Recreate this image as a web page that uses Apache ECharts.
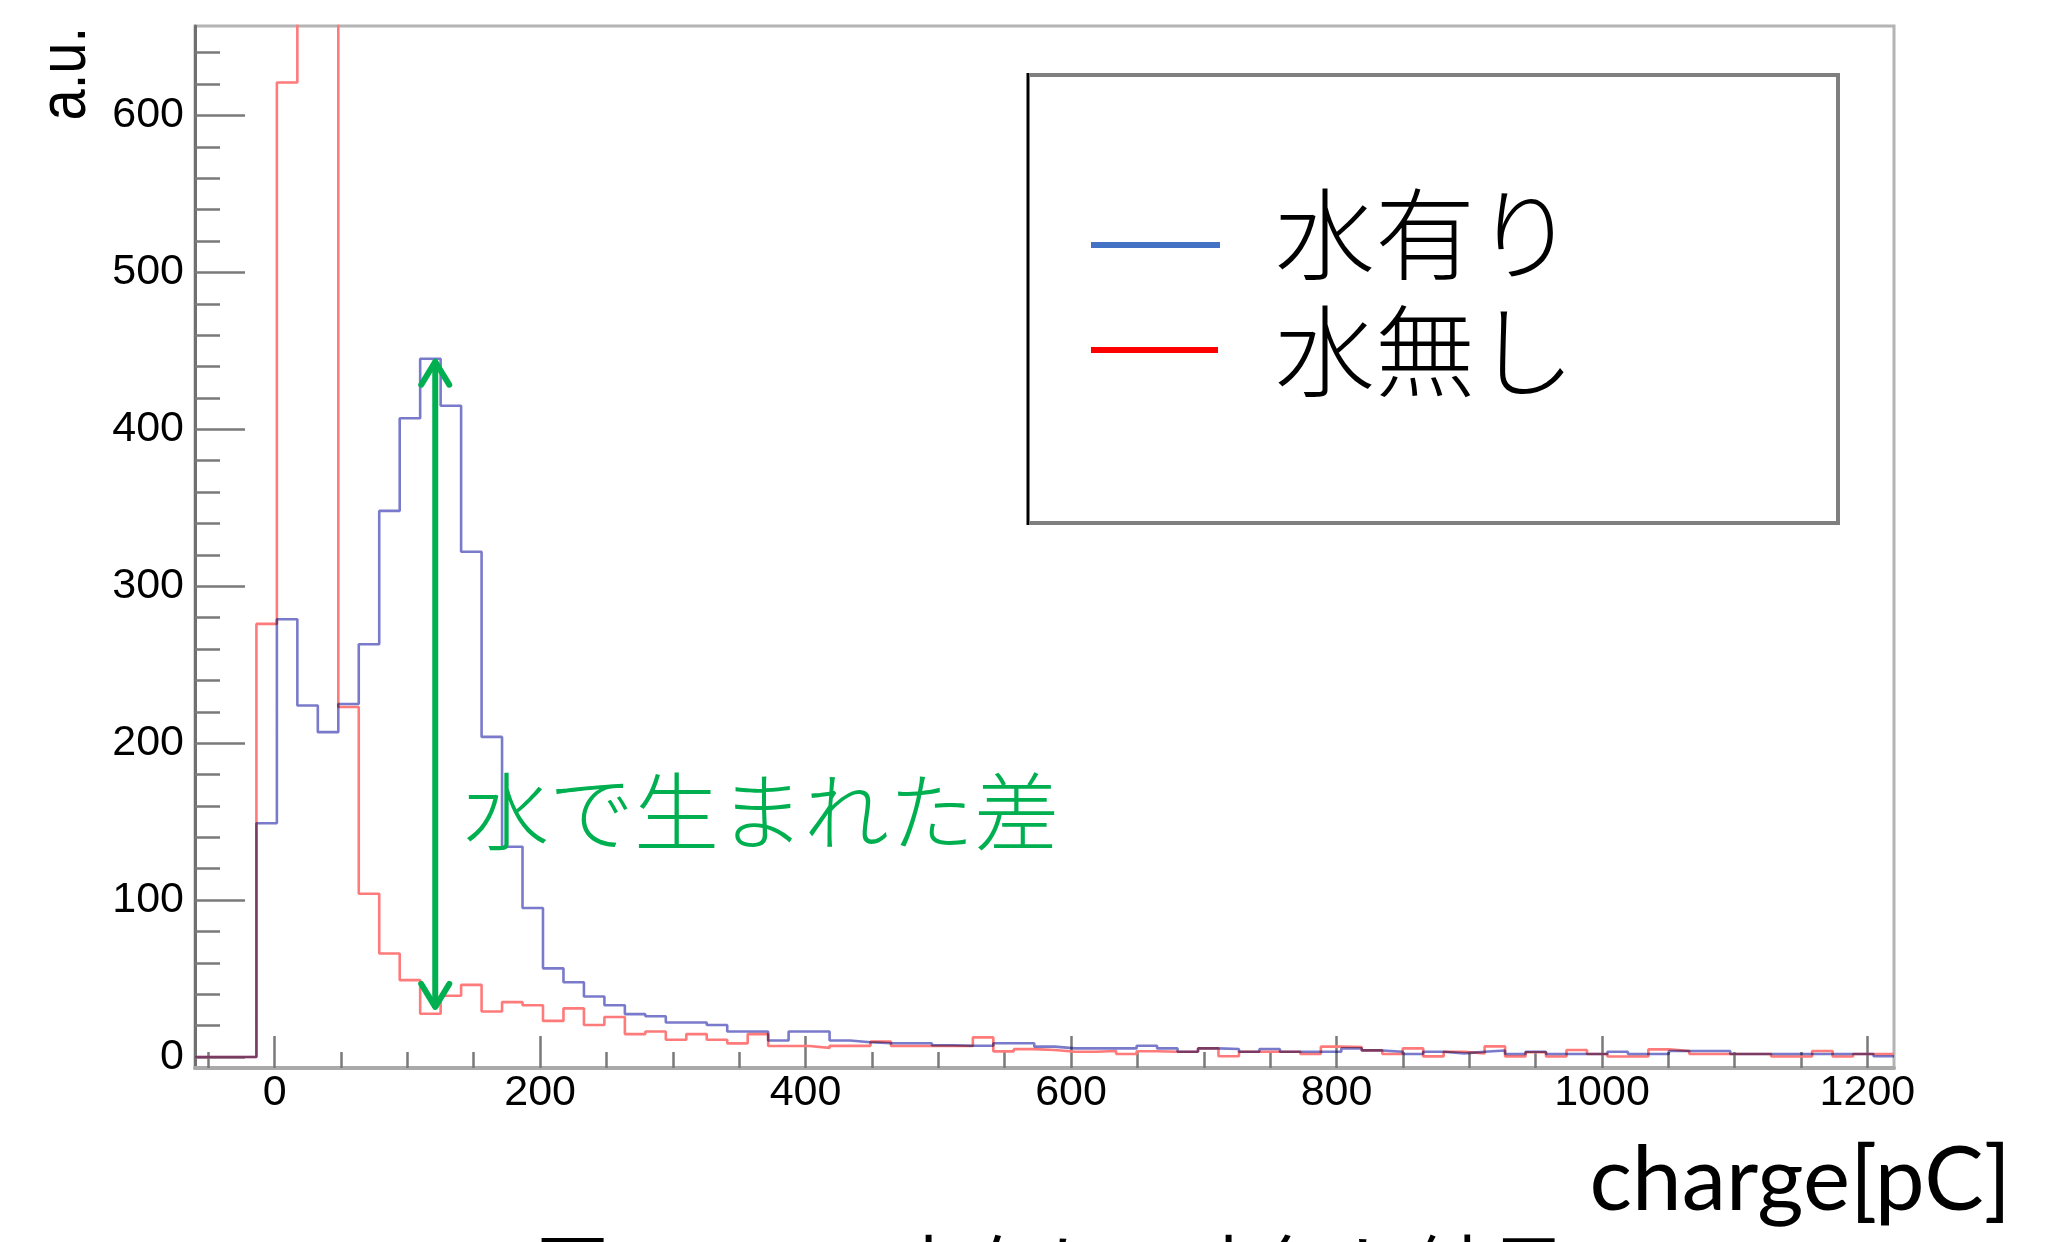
<!DOCTYPE html>
<html>
<head>
<meta charset="utf-8">
<script src="https://cdn.jsdelivr.net/npm/echarts@6/dist/echarts.min.js"></script>
<style>
html,body{margin:0;padding:0;background:#ffffff;}
#c{width:2062px;height:1242px;}
</style>
</head>
<body>
<div id="c"></div>
<script>
// ---------- data ----------
const X_MIN = -60, X_MAX = 1220, N_BINS = 83;   // histogram range / binning
const Y_MIN = -7, Y_MAX = 657;

const seriesNames = ['水有り', '水無し'];

// bin contents, bin k spans [X_MIN + k*w, X_MIN + (k+1)*w]
const withWater = [
  0, 0, 0, 149, 279, 224, 207, 225, 263, 348,
  407, 445, 415, 322, 204, 134, 95, 56.5, 47.6, 38.6,
  33, 27.3, 26, 22, 22, 20.4, 16.3, 16.3, 10.5, 16.3,
  16.3, 10.5, 9.4, 8.8, 8.8, 8.8, 7.5, 7.2, 7.2, 8.8,
  8.8, 6.6, 5.5, 5.5, 5.5, 5.5, 7.2, 5.5, 3.4, 5.5,
  5.1, 3.4, 5.1, 3.4, 3.4, 3.4, 5.5, 4.2, 3.4, 1.9,
  3.4, 2.3, 3.4, 4.2, 1.9, 3.4, 1.9, 1.9, 1.9, 3.4,
  1.9, 1.9, 3.8, 3.8, 3.8, 1.9, 1.9, 1.9, 1.9, 1.9,
  1.9, 1.9, 0.5
];
const withoutWater = [
  0, 0, 0, 276, 621, 720, 705, 223, 104, 66,
  49, 27.6, 39, 46, 29, 35, 33, 23, 31, 20.4,
  25.5, 14.6, 16.3, 11, 14.6, 11, 8.7, 14.6, 7, 7,
  5.8, 7.1, 7.1, 9.8, 7, 7, 7, 7, 12.5, 3.6,
  5, 4.5, 3.4, 3.4, 3.8, 1.9, 3.7, 3.4, 3.4, 5.5,
  0.5, 3.4, 3.4, 3.4, 1.9, 6.6, 6.4, 4.2, 1.9, 5.5,
  0.4, 3.4, 2.3, 6.8, 0.4, 3, 0.3, 4.5, 1.9, 0.3,
  0.3, 4.9, 3.8, 1.9, 1.9, 1.9, 1.9, 0.3, 0.3, 3.8,
  0.3, 1.9, 1.9
];

const xMajorTicks = [0, 200, 400, 600, 800, 1000, 1200];
const xMinorTicks = [-50, 50, 100, 150, 250, 300, 350, 450, 500, 550, 650, 700, 750,
                     850, 900, 950, 1050, 1100, 1150];
const yMajorTicks = [0, 100, 200, 300, 400, 500, 600];
const yMinorTicks = [20, 40, 60, 80, 120, 140, 160, 180, 220, 240, 260, 280, 320, 340, 360, 380,
                     420, 440, 460, 480, 520, 540, 560, 580, 620, 640];

const xTitle = 'charge[pC]';
const yTitle = 'a.u.';
const annotationText = '水で生まれた差';
const arrowMark = { x: 121, top: 445, bottom: 30 };
const captionHead = '図';
const captionBody = '水有り・水無し結果';

// ---------- chart ----------
const chart = echarts.init(document.getElementById('c'), null, { renderer: 'canvas', width: 2062, height: 1242 });
const binW = (X_MAX - X_MIN) / N_BINS;
function histPoints(vals) {
  const pts = [];
  for (let k = 0; k < vals.length; k++) pts.push([X_MIN + k * binW, vals[k]]);
  pts.push([X_MIN + vals.length * binW, vals[vals.length - 1]]);
  return pts;
}

const tickStyle = { color: '#7a7a7a', width: 2.5 };
const labelFont = { fontSize: 43, fontFamily: '"Liberation Sans", Arial, sans-serif', color: '#000000' };
const plainNum = function (v) { return String(Math.round(v)); };

chart.setOption({
  animation: false,
  backgroundColor: '#ffffff',
  grid: {
    left: 195, top: 26, width: 1699, height: 1042,
    show: true, borderColor: '#b4b4b4', borderWidth: 3, backgroundColor: 'transparent',
    containLabel: false, outerBoundsMode: 'none'
  },
  xAxis: [
    {
      type: 'value', min: X_MIN, max: X_MAX, position: 'bottom',
      axisLine: { show: true, onZero: false, lineStyle: { color: '#aaaaaa', width: 4 } },
      axisTick: { show: true, inside: true, length: 32, customValues: xMajorTicks, lineStyle: tickStyle },
      axisLabel: Object.assign({ show: true, customValues: xMajorTicks, margin: 4, formatter: plainNum }, labelFont),
      splitLine: { show: false }
    },
    {
      type: 'value', min: X_MIN, max: X_MAX, position: 'bottom', offset: 0,
      axisLine: { show: false, onZero: false },
      axisTick: { show: true, inside: true, length: 16, customValues: xMinorTicks, lineStyle: tickStyle },
      axisLabel: { show: false },
      splitLine: { show: false }
    }
  ],
  yAxis: [
    {
      type: 'value', min: Y_MIN, max: Y_MAX, position: 'left',
      axisLine: { show: true, onZero: false, lineStyle: { color: '#707070', width: 3 } },
      axisTick: { show: true, inside: true, length: 50, customValues: yMajorTicks, lineStyle: tickStyle },
      axisLabel: Object.assign({ show: true, customValues: yMajorTicks, margin: 11, formatter: plainNum }, labelFont),
      splitLine: { show: false }
    },
    {
      type: 'value', min: Y_MIN, max: Y_MAX, position: 'left', offset: 0,
      axisLine: { show: false, onZero: false },
      axisTick: { show: true, inside: true, length: 25, customValues: yMinorTicks, lineStyle: tickStyle },
      axisLabel: { show: false },
      splitLine: { show: false }
    }
  ],
  series: [
    {
      name: seriesNames[1], type: 'line', step: 'end', xAxisIndex: 0, yAxisIndex: 0,
      data: histPoints(withoutWater), showSymbol: false, symbol: 'none', clip: true,
      lineStyle: { color: '#ff7a7a', width: 2.6 }, z: 3
    },
    {
      name: seriesNames[0], type: 'line', step: 'end', xAxisIndex: 0, yAxisIndex: 0,
      data: histPoints(withWater), showSymbol: false, symbol: 'none', clip: true,
      blendMode: 'multiply',
      lineStyle: { color: '#7a7acc', width: 2.6 }, z: 4
    }
  ]
});

// ---------- annotations / legend / titles ----------
const pTop = chart.convertToPixel({ xAxisIndex: 0, yAxisIndex: 0 }, [arrowMark.x, arrowMark.top]);
const pBot = chart.convertToPixel({ xAxisIndex: 0, yAxisIndex: 0 }, [arrowMark.x, arrowMark.bottom]);
const green = '#00b050';
const ax = pTop[0];
const headW = 14, headH = 26;

const cjk = '"Noto Sans CJK JP", "Noto Sans CJK SC", sans-serif';
function txt(text, x, y, size, opts) {
  return Object.assign({
    type: 'text', x: x, y: y, z: 100,
    style: Object.assign({
      text: text, fontSize: size, fontFamily: cjk, fill: '#000000',
      align: 'left', textAlign: 'left', verticalAlign: 'middle', textVerticalAlign: 'middle'
    }, opts && opts.style || {})
  }, opts && opts.el || {});
}

chart.setOption({
  graphic: [
    // legend box
    { type: 'rect', z: 90, shape: { x: 1028, y: 75, width: 810, height: 448 },
      style: { fill: '#ffffff', stroke: '#7f7f7f', lineWidth: 4 } },
    { type: 'line', z: 91, shape: { x1: 1028, y1: 73, x2: 1028, y2: 525 },
      style: { stroke: '#000000', lineWidth: 2 } },
    { type: 'line', z: 91, shape: { x1: 1091, y1: 245, x2: 1220, y2: 245 },
      style: { stroke: '#4472c4', lineWidth: 6 } },
    { type: 'line', z: 91, shape: { x1: 1091, y1: 350, x2: 1218, y2: 350 },
      style: { stroke: '#ff0000', lineWidth: 6 } },
    txt(seriesNames[0], 1275, 234, 100, { style: { fontWeight: 300 } }),
    txt(seriesNames[1], 1275, 351, 100, { style: { fontWeight: 300 } }),

    // green arrow
    { type: 'polyline', z: 95, shape: { points: [[ax, pTop[1] + 2], [ax, pBot[1] - 2]] },
      style: { stroke: green, lineWidth: 6, fill: null } },
    { type: 'polyline', z: 95, shape: { points: [[ax - headW, pTop[1] + headH], [ax, pTop[1] + 3], [ax + headW, pTop[1] + headH]] },
      style: { stroke: green, lineWidth: 6, fill: null, lineCap: 'round', lineJoin: 'round' } },
    { type: 'polyline', z: 95, shape: { points: [[ax - headW, pBot[1] - headH], [ax, pBot[1] - 3], [ax + headW, pBot[1] - headH]] },
      style: { stroke: green, lineWidth: 6, fill: null, lineCap: 'round', lineJoin: 'round' } },
    txt(annotationText, 464, 812, 85, { style: { fill: green, fontWeight: 300 } }),

    // axis titles
    { type: 'text', x: 2011, y: 1181, z: 100,
      style: { text: xTitle, fontSize: 89, fontFamily: 'Lato, "Open Sans", sans-serif', fill: '#000000',
               align: 'right', textAlign: 'right', verticalAlign: 'middle', textVerticalAlign: 'middle' } },
    { type: 'text', x: 67, y: 27, z: 100, rotation: Math.PI / 2, scaleX: 0.85,
      style: { text: yTitle, fontSize: 66, fontFamily: '"Liberation Sans", Arial, sans-serif', fill: '#000000',
               align: 'right', textAlign: 'right', verticalAlign: 'middle', textVerticalAlign: 'middle' } },

    // caption (cut off at the bottom edge)
    txt(captionHead, 535, 1232, 75, { style: { verticalAlign: 'top', textVerticalAlign: 'top' } }),
    txt(captionBody, 891, 1232, 75, { style: { verticalAlign: 'top', textVerticalAlign: 'top' } })
  ]
});
</script>
</body>
</html>
